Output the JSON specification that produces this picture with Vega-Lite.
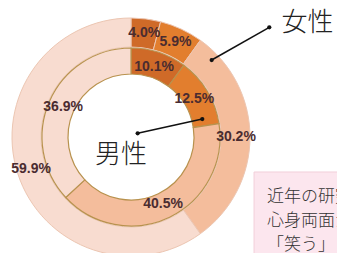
{
  "$schema": "https://vega.github.io/schema/vega-lite/v6.json",
  "width": 262,
  "height": 232,
  "autosize": {"type": "none"},
  "padding": {"left": 0, "top": 21, "right": 75, "bottom": 0},
  "background": "white",
  "config": {"view": {"stroke": null}},
  "datasets": {
    "rings": [
      {"ring": "女性", "category": "A", "order": 1, "value": 4.0},
      {"ring": "女性", "category": "B", "order": 2, "value": 5.9},
      {"ring": "女性", "category": "C", "order": 3, "value": 30.2},
      {"ring": "女性", "category": "D", "order": 4, "value": 59.9},
      {"ring": "男性", "category": "A", "order": 1, "value": 10.1},
      {"ring": "男性", "category": "B", "order": 2, "value": 12.5},
      {"ring": "男性", "category": "C", "order": 3, "value": 40.5},
      {"ring": "男性", "category": "D", "order": 4, "value": 36.9}
    ],
    "titles": [
      {"text": "女性", "x": 1.483, "y": 0.954},
      {"text": "男性", "x": -0.084, "y": -0.151}
    ],
    "arrows": [
      {"id": "女性", "x": 1.162, "y": 0.922},
      {"id": "女性", "x": 0.678, "y": 0.647},
      {"id": "男性", "x": 0.056, "y": 0.031},
      {"id": "男性", "x": 0.599, "y": 0.151}
    ],
    "box": [
      {"x": 1.034, "x2": 1.9, "y": -0.294, "y2": -1.2}
    ],
    "boxtext": [
      {"line": 1, "text": "近年の研究では、", "x": 1.143, "y": -0.504},
      {"line": 2, "text": "心身両面から", "x": 1.143, "y": -0.706},
      {"line": 3, "text": "「笑う」ことの", "x": 1.143, "y": -0.908}
    ]
  },
  "layer": [
    {
      "data": {"name": "box"},
      "mark": {"type": "rect", "fill": "#fce6ee", "stroke": "#f2cfda", "strokeWidth": 1},
      "encoding": {
        "x": {"field": "x", "type": "quantitative", "scale": {"domain": [-1.1008, 1.1008], "nice": false, "zero": false}, "axis": null},
        "x2": {"field": "x2"},
        "y": {"field": "y", "type": "quantitative", "scale": {"domain": [-0.9748, 0.9748], "nice": false, "zero": false}, "axis": null},
        "y2": {"field": "y2"}
      }
    },
    {
      "data": {"name": "boxtext"},
      "mark": {"type": "text", "align": "left", "baseline": "middle", "font": "Noto Sans CJK JP", "fontWeight": 300, "fontSize": 17, "fill": "#333333"},
      "encoding": {
        "x": {"field": "x", "type": "quantitative"},
        "y": {"field": "y", "type": "quantitative"},
        "text": {"field": "text"}
      }
    },
    {
      "data": {"name": "rings"},
      "transform": [{"filter": "datum.ring === '女性'"}],
      "mark": {"type": "arc", "radius": 119, "radius2": 90, "stroke": "#ecc6b2", "strokeWidth": 1},
      "encoding": {
        "theta": {"field": "value", "type": "quantitative", "stack": true, "scale": {"domain": [0, 100]}},
        "order": {"field": "order", "type": "quantitative"},
        "color": {"field": "category", "type": "nominal", "legend": null,
          "scale": {"domain": ["A", "B", "C", "D"], "range": ["#cf6a28", "#e27e2e", "#f4bd9c", "#f8dcd0"]}}
      }
    },
    {
      "data": {"name": "rings"},
      "transform": [{"filter": "datum.ring === '男性'"}],
      "mark": {"type": "arc", "radius": 89, "radius2": 63, "stroke": "#b8924e", "strokeWidth": 1.2},
      "encoding": {
        "theta": {"field": "value", "type": "quantitative", "stack": true, "scale": {"domain": [0, 100]}},
        "order": {"field": "order", "type": "quantitative"},
        "color": {"field": "category", "type": "nominal", "legend": null}
      }
    },
    {
      "data": {"name": "rings"},
      "transform": [
        {"filter": "datum.ring === '女性'"},
        {"calculate": "format(datum.value, '.1f') + '%'", "as": "label"}
      ],
      "mark": {"type": "text", "radius": 105, "font": "Liberation Sans", "fontWeight": "bold", "fontSize": 14, "fill": "#4a2c30"},
      "encoding": {
        "theta": {"field": "value", "type": "quantitative", "stack": true, "scale": {"domain": [0, 100]}},
        "order": {"field": "order", "type": "quantitative"},
        "text": {"field": "label"}
      }
    },
    {
      "data": {"name": "rings"},
      "transform": [
        {"filter": "datum.ring === '男性'"},
        {"calculate": "format(datum.value, '.1f') + '%'", "as": "label"}
      ],
      "mark": {"type": "text", "radius": 74, "font": "Liberation Sans", "fontWeight": "bold", "fontSize": 14, "fill": "#4a2c30"},
      "encoding": {
        "theta": {"field": "value", "type": "quantitative", "stack": true, "scale": {"domain": [0, 100]}},
        "order": {"field": "order", "type": "quantitative"},
        "text": {"field": "label"}
      }
    },
    {
      "data": {"name": "arrows"},
      "mark": {"type": "line", "stroke": "#111111", "strokeWidth": 1.5},
      "encoding": {
        "x": {"field": "x", "type": "quantitative"},
        "y": {"field": "y", "type": "quantitative"},
        "detail": {"field": "id"}
      }
    },
    {
      "data": {"name": "arrows"},
      "mark": {"type": "point", "filled": true, "fill": "#111111", "size": 18, "opacity": 1, "shape": "circle"},
      "encoding": {
        "x": {"field": "x", "type": "quantitative"},
        "y": {"field": "y", "type": "quantitative"}
      }
    },
    {
      "data": {"name": "titles"},
      "mark": {"type": "text", "align": "center", "baseline": "middle", "font": "Noto Sans CJK JP", "fontWeight": 300, "fontSize": 26, "fill": "#222222"},
      "encoding": {
        "x": {"field": "x", "type": "quantitative"},
        "y": {"field": "y", "type": "quantitative"},
        "text": {"field": "text"}
      }
    }
  ]
}
